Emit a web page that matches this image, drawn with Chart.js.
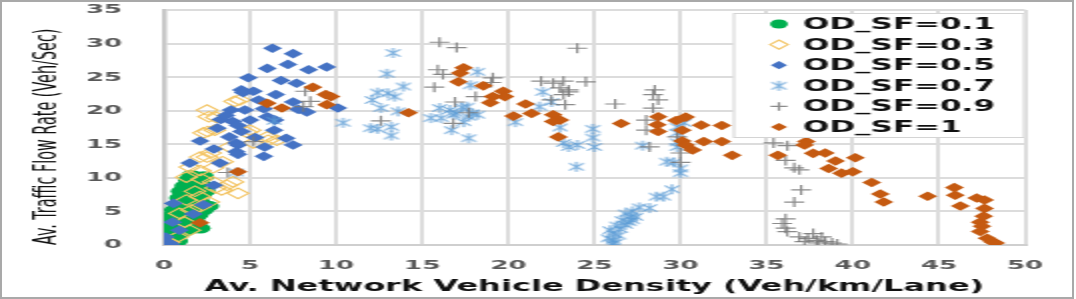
<!DOCTYPE html>
<html>
<head>
<meta charset="utf-8">
<script src="https://cdn.jsdelivr.net/npm/chart.js@4.4.1/dist/chart.umd.min.js"></script>
<style>
html, body { margin: 0; padding: 0; background: #fff; }
#wrap { position: relative; width: 1076px; height: 299px; overflow: hidden; }
#frame { position: absolute; left: 0; top: 0; width: 1074px; height: 299px; box-sizing: border-box; border: 2px solid #a9a9a9; pointer-events: none; }
</style>
</head>
<body>
<div id="wrap">
  <!-- drawn at half width, then stretched to 1076 like the original picture -->
  <canvas id="chart" width="538" height="299" style="width:1076px;height:299px;display:block"></canvas>
  <div id="frame"></div>
</div>
<script>
// series labels
const seriesLabels = ['OD_SF=0.1', 'OD_SF=0.3', 'OD_SF=0.5', 'OD_SF=0.7', 'OD_SF=0.9', 'OD_SF=1'];

// tick values
const xTicks = [0, 5, 10, 15, 20, 25, 30, 35, 40, 45, 50];
const yTicks = [0, 5, 10, 15, 20, 25, 30, 35];

// [density, flow] pairs
const sf01 = [[0.1,0.2],[0.3,0.8],[0.2,1.5],[0.5,1.0],[0.8,0.6],[0.6,2.0],[1.0,1.8],[0.4,2.8],[0.9,2.6],[1.3,2.2],
  [0.3,3.6],[0.7,3.4],[1.1,3.2],[1.5,3.0],[0.5,4.4],[0.9,4.2],[1.3,4.0],[1.8,4.1],[0.6,5.2],[1.0,5.0],
  [1.4,5.4],[1.9,5.0],[2.3,5.2],[0.8,6.0],[1.2,6.3],[1.7,6.1],[2.1,6.4],[2.6,5.8],[0.9,7.0],[1.3,7.3],
  [1.8,7.1],[2.2,7.5],[1.0,8.0],[1.5,8.2],[1.9,8.4],[2.4,8.0],[1.2,8.8],[1.7,9.0],[2.1,9.3],[1.4,9.7],
  [1.9,10.0],[2.3,10.2],[1.6,10.4],[0.2,0.5],[0.4,0.1],[1.6,2.5],[1.8,3.5],[2.0,4.5],[2.1,2.5]];

const sf03 = [[0.0,0.0],[0.3,0.4],[0.8,1.2],[1.5,2.2],[1.2,3.4],[0.9,4.7],[1.6,5.2],[2.1,5.7],[1.3,6.7],[2.1,7.2],
  [2.6,6.4],[3.35,8.2],[3.65,8.9],[4.3,7.7],[4.0,9.4],[2.85,9.4],[1.3,10.1],[2.1,11.1],[1.5,11.6],[2.85,11.5],
  [2.5,13.1],[2.1,13.1],[2.7,13.7],[3.8,14.6],[5.2,15.2],[6.05,15.6],[6.55,15.6],[6.0,16.1],[2.3,16.7],[2.55,16.9],
  [2.95,17.1],[4.8,16.8],[5.0,17.1],[2.6,19.1],[3.05,19.0],[2.5,20.1],[4.1,21.4],[4.4,21.6],[3.4,12.4],[2.2,9.8],
  [3.0,8.5],[1.8,8.0]];

const sf05 = [[6.3,29.3],[7.5,28.5],[7.2,26.9],[6.0,26.3],[8.4,26.1],[9.45,26.5],[4.9,24.9],[6.8,24.5],[7.7,24.1],[4.5,23.1],
  [5.2,22.9],[6.5,22.4],[5.5,21.6],[7.5,21.3],[10.1,20.4],[8.3,19.8],[3.9,20.1],[4.7,20.1],[5.8,20.3],[3.3,18.7],
  [4.0,18.4],[4.3,17.8],[3.1,17.4],[6.0,19.1],[6.4,17.1],[6.45,18.6],[2.1,15.5],[3.8,16.1],[4.2,15.2],[4.5,16.9],
  [7.1,15.9],[2.9,14.3],[4.3,14.9],[4.2,13.9],[5.85,14.6],[7.5,14.9],[4.3,13.5],[5.8,13.2],[1.5,12.2],[3.25,12.2],
  [2.9,8.9],[2.3,6.0],[0.55,6.2],[0.5,3.4],[1.7,4.6],[0.1,1.2],[0.3,0.3],[0.9,2.2],[0.0,0.6],[0.4,0.1],
  [5.0,18.6],[3.6,19.3],[4.6,22.7],[7.8,20.2],[5.3,16.0]];

const sf07 = [[6.4,18.5],[10.4,18.2],[13.3,28.6],[12.95,25.5],[13.9,23.6],[12.4,22.7],[13.0,22.6],[13.4,22.1],[12.1,21.6],[12.6,20.4],
  [13.6,19.9],[12.4,17.3],[13.2,17.6],[13.2,16.3],[12.0,17.4],[15.5,18.9],[16.1,18.9],[16.0,20.4],[16.6,20.1],[16.8,19.4],
  [17.0,19.6],[17.3,20.5],[17.6,20.6],[17.7,19.1],[17.9,19.6],[18.2,19.4],[17.4,18.3],[16.7,17.1],[17.7,15.9],[18.2,25.8],
  [17.8,23.8],[20.4,18.3],[22.0,22.8],[21.8,20.6],[22.5,21.3],[23.0,17.5],[23.2,15.2],[23.5,14.6],[24.0,14.9],[23.95,11.65],
  [24.9,17.3],[24.9,16.0],[25.0,14.6],[27.8,14.8],[29.8,17.6],[29.8,16.7],[29.8,15.3],[29.8,14.6],[29.6,12.3],[29.2,12.4],
  [30.0,11.4],[30.0,10.7],[29.5,8.3],[29.0,7.2],[28.6,7.2],[28.2,5.5],[27.6,5.6],[27.2,5.0],[27.1,4.2],[26.8,4.7],
  [26.6,3.7],[27.2,3.7],[26.3,2.9],[25.9,2.2],[26.1,1.7],[26.1,0.7],[26.0,0.2],[25.8,1.0],[26.4,1.4],[26.5,2.4],
  [26.8,3.0],[27.0,3.4],[27.4,4.2],[26.2,0.3],[30.2,18.2],[4.2,10.8]];

const sf09 = [[16.0,30.2],[17.0,29.4],[24.0,29.3],[15.9,26.1],[16.2,25.4],[15.7,23.5],[19.1,24.9],[19.0,24.2],[18.1,22.1],[16.9,21.3],
  [17.7,19.7],[16.8,18.1],[12.6,18.5],[21.9,24.4],[22.6,24.1],[23.2,24.4],[24.5,24.3],[23.0,23.4],[23.5,23.1],[23.5,22.8],
  [23.2,22.4],[22.5,21.6],[23.3,20.9],[26.2,21.0],[28.5,23.1],[28.4,22.4],[28.7,21.6],[28.4,20.4],[28.0,18.6],[28.0,17.1],
  [28.2,14.6],[29.8,16.1],[30.0,13.7],[30.0,12.3],[8.2,22.9],[8.5,21.4],[8.1,20.6],[5.2,15.4],[3.7,10.8],[35.4,15.2],
  [36.2,14.8],[36.1,12.6],[36.6,11.5],[36.9,11.2],[37.0,8.2],[36.6,6.4],[36.1,3.9],[35.9,3.2],[36.1,2.5],[36.2,2.0],
  [36.9,1.2],[37.4,1.0],[37.7,1.7],[37.9,0.7],[38.2,1.2],[38.4,0.5],[38.8,0.3],[39.1,0.15],[37.2,0.5],[38.0,0.3]];

const sf1 = [[2.1,3.3],[4.3,10.9],[6.0,21.1],[6.85,20.4],[8.65,23.5],[9.4,22.4],[9.45,20.9],[9.7,22.1],[14.2,19.7],[17.4,26.4],
  [17.2,25.6],[17.1,24.3],[18.55,23.7],[19.7,22.9],[19.8,22.1],[19.1,22.1],[18.95,21.2],[21.0,21.0],[20.3,19.2],[21.35,19.6],
  [22.6,19.4],[23.0,18.6],[22.6,18.4],[22.9,16.1],[26.55,18.1],[28.7,19.1],[28.65,17.9],[28.7,16.9],[29.75,18.55],[30.3,19.05],
  [30.1,17.1],[30.1,15.5],[30.3,14.9],[30.7,14.15],[31.2,17.85],[31.35,15.4],[32.4,15.4],[32.4,17.8],[33.0,13.35],[35.65,13.35],
  [37.3,15.4],[37.2,14.9],[37.7,13.65],[38.4,13.7],[39.0,12.5],[40.15,13.0],[38.6,11.4],[39.35,10.7],[40.0,10.9],[41.1,9.3],
  [41.6,7.6],[41.8,6.4],[44.35,7.25],[45.9,8.55],[45.95,7.4],[46.25,5.8],[47.2,7.0],[47.65,6.7],[47.65,5.45],[47.4,3.4],
  [47.5,2.8],[47.4,2.0],[47.8,1.0],[48.1,0.5],[48.3,0.3],[47.6,4.3]];

const toXY = arr => arr.map(p => ({ x: p[0], y: p[1] }));

// Excel-like star: X with a vertical bar
function starMarker(color, r) {
    const c = document.createElement('canvas');
    c.width = 2 * r + 2;
    c.height = 2 * r + 2;
    const g = c.getContext('2d');
    const m = r + 1, d = r * 0.72;
    g.strokeStyle = color;
    g.lineWidth = 1.1;
    g.beginPath();
    g.moveTo(m - d, m - d); g.lineTo(m + d, m + d);
    g.moveTo(m + d, m - d); g.lineTo(m - d, m + d);
    g.moveTo(m, m - r); g.lineTo(m, m + r);
    g.stroke();
    return c;
}
const star = starMarker('rgba(91,155,213,0.85)', 5);

const datasets = [
    { label: seriesLabels[0], data: toXY(sf01), pointStyle: 'circle', pointRadius: 5.2, backgroundColor: '#00B050', borderColor: '#00B050', pointBorderWidth: 0, order: 6 },
    { label: seriesLabels[1], data: toXY(sf03), pointStyle: 'rectRot', pointRadius: 5.3, backgroundColor: 'rgba(0,0,0,0)', borderColor: '#F3C463', pointBorderWidth: 1.1, order: 5 },
    { label: seriesLabels[2], data: toXY(sf05), pointStyle: 'rectRot', pointRadius: 4.8, backgroundColor: '#4472C4', borderColor: '#4472C4', pointBorderWidth: 0, order: 4 },
    { label: seriesLabels[3], data: toXY(sf07), pointStyle: star, pointRadius: 5, backgroundColor: '#5B9BD5', borderColor: '#5B9BD5', pointBorderWidth: 1, order: 3 },
    { label: seriesLabels[4], data: toXY(sf09), pointStyle: 'cross', pointRadius: 5, backgroundColor: '#808080', borderColor: 'rgba(120,120,120,0.85)', pointBorderWidth: 1.2, order: 2 },
    { label: seriesLabels[5], data: toXY(sf1), pointStyle: 'rectRot', pointRadius: 4.8, backgroundColor: '#C55A11', borderColor: '#C55A11', pointBorderWidth: 0, order: 1 }
];

// legend box drawn inside the plot, top right
const legendBox = {
    id: 'legendBox',
    afterDraw(chart) {
        const { ctx, chartArea } = chart;
        const w = 146, h = 125;
        const x0 = chartArea.right - w, y0 = chartArea.top + 3;
        ctx.save();
        ctx.fillStyle = '#fff';
        ctx.fillRect(x0, y0, w, h);
        ctx.strokeStyle = '#d4d4d4';
        ctx.lineWidth = 1;
        ctx.strokeRect(x0 + 0.5, y0 + 0.5, w - 1, h - 1);
        ctx.font = 'bold 15.5px "DejaVu Sans"';
        ctx.textBaseline = 'middle';
        chart.data.datasets.forEach((ds, i) => {
            const cy = y0 + 11 + i * 20.6;
            ctx.fillStyle = ds.backgroundColor;
            ctx.strokeStyle = ds.borderColor;
            ctx.lineWidth = ds.pointBorderWidth;
            Chart.helpers.drawPoint(ctx, {
                pointStyle: ds.pointStyle,
                radius: ds.pointRadius * 0.85,
                rotation: 0,
                borderWidth: ds.pointBorderWidth
            }, x0 + 23, cy);
            ctx.fillStyle = '#111';
            ctx.fillText(ds.label, x0 + 35, cy + 1);
        });
        ctx.restore();
    }
};

const tickFont = { family: 'DejaVu Sans', weight: 'bold', size: 13 };

new Chart(document.getElementById('chart'), {
    type: 'scatter',
    data: { datasets: datasets },
    plugins: [legendBox],
    options: {
        responsive: false,
        animation: false,
        devicePixelRatio: 1,
        layout: { padding: { left: 0, right: 25.5, top: 10, bottom: 0 } },
        plugins: { legend: { display: false }, tooltip: { enabled: false } },
        scales: {
            x: {
                type: 'linear',
                min: 0,
                max: 50,
                afterBuildTicks: s => { s.ticks = xTicks.map(v => ({ value: v })); },
                afterFit: s => { s.height = 54; },
                grid: { color: '#dcdcdc', lineWidth: 2, drawTicks: true, tickLength: 11, tickColor: 'rgba(0,0,0,0)' },
                border: { color: '#cfcfcf', width: 2 },
                ticks: { color: '#595959', font: tickFont, padding: 2 },
                title: {
                    display: true,
                    text: 'Av. Network Vehicle Density (Veh/km/Lane)',
                    color: '#111',
                    font: { family: 'DejaVu Sans', weight: 'bold', size: 16 },
                    padding: { top: 0, bottom: 3 }
                }
            },
            y: {
                type: 'linear',
                min: 0,
                max: 35,
                afterBuildTicks: s => { s.ticks = yTicks.map(v => ({ value: v })); },
                afterFit: s => { s.width = 82; },
                grid: { color: '#dcdcdc', lineWidth: 2, drawTicks: true, tickLength: 19, tickColor: 'rgba(0,0,0,0)' },
                border: { color: '#c8c8c8', width: 2.5 },
                ticks: { color: '#595959', font: tickFont, padding: 2 },
                title: {
                    display: true,
                    text: 'Av. Traffic Flow Rate (Veh/Sec)',
                    align: 'start',
                    color: '#111',
                    font: { family: "'Liberation Sans Narrow', 'DejaVu Sans Condensed', 'Liberation Sans'", size: 16 },
                    padding: { top: 14, bottom: 0 }
                }
            }
        }
    }
});
</script>
</body>
</html>
